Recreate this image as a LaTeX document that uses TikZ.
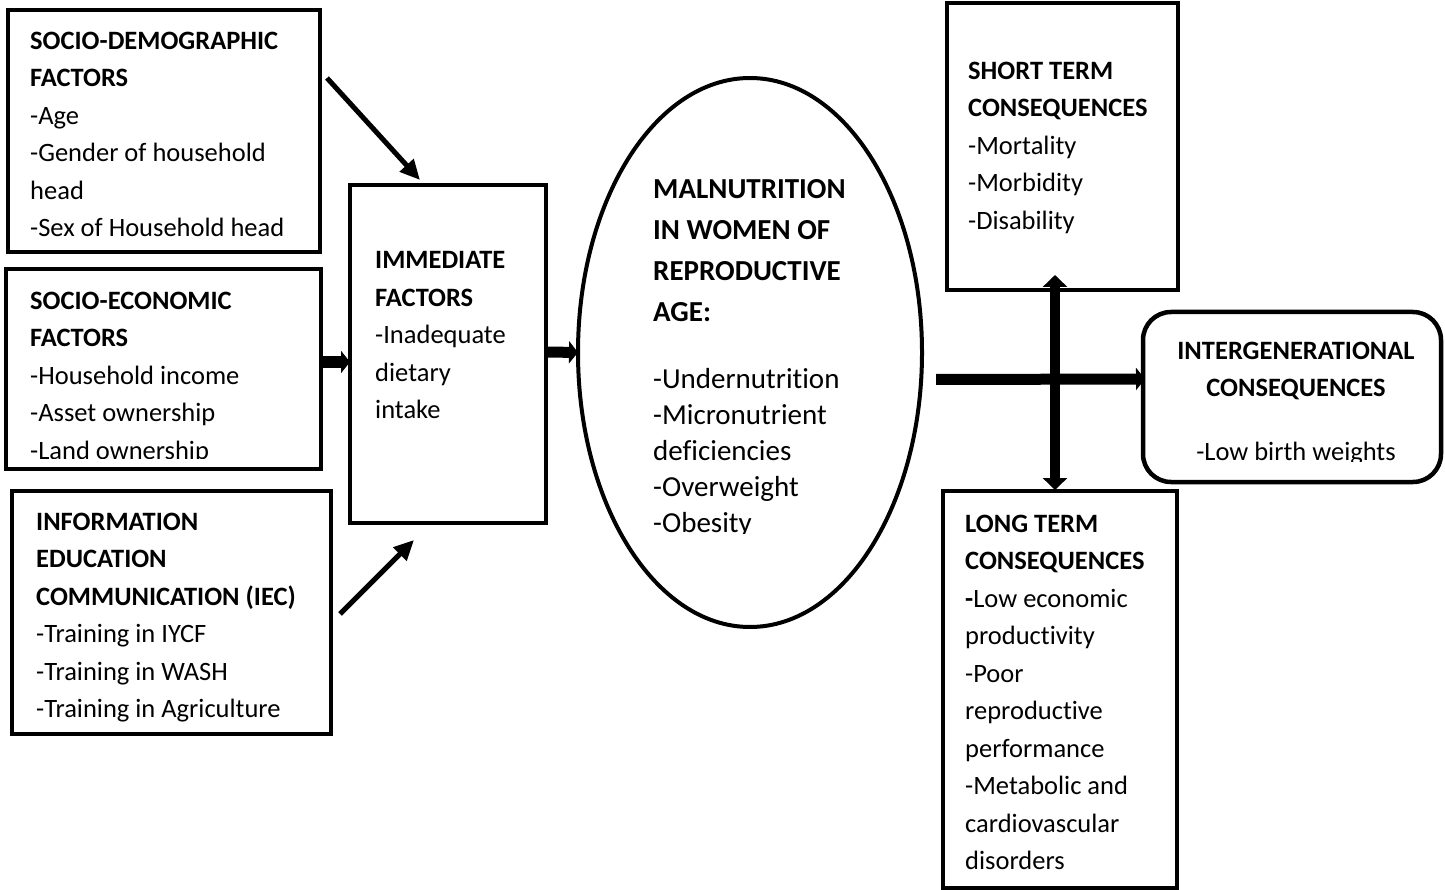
\documentclass[tikz,border=0pt]{standalone}
\usepackage{fontspec}
\setmainfont{Carlito}[Ligatures={NoCommon,NoContextual},Contextuals=NoAlternate]
\usetikzlibrary{arrows.meta,shapes.geometric,calc}
\begin{document}
\begin{tikzpicture}[x=1pt,y=-1pt,
  box/.style={draw,line width=4.5pt,inner sep=0pt,outer sep=0pt},
  txt/.style={anchor=north west,inner sep=0pt,align=left,font=\fontsize{26.5}{37.5}\selectfont},
  big/.style={anchor=north west,inner sep=0pt,align=left,font=\fontsize{29}{41}\selectfont},
  bigl/.style={anchor=north west,inner sep=0pt,align=left,font=\fontsize{29}{36}\selectfont},
  thin/.style={line width=5pt,-{Triangle[length=20pt,width=18pt]}},
  fat/.style={line width=11pt,-{Triangle[length=9pt,width=22pt]}},
  fatboth/.style={line width=10pt,{Triangle[length=12pt,width=24pt]}-{Triangle[length=12pt,width=24pt]}}]
\useasboundingbox (0,0) rectangle (1445,890);
\fill[white] (0,0) rectangle (1445,890);

% boxes
\node[box,minimum width=312pt,minimum height=242pt] (sd) at (164,131) {};
\node[box,minimum width=315pt,minimum height=200pt] (se) at (163.5,369) {};
\node[box,minimum width=319pt,minimum height=243pt] (iec) at (171.5,612.5) {};
\node[box,minimum width=196pt,minimum height=338pt] (imm) at (448,354) {};
\node[box,ellipse,line width=4pt,minimum width=344pt,minimum height=549pt] (mal) at (750,352.5) {};
\node[box,minimum width=231pt,minimum height=287pt] (st) at (1062.5,146.5) {};
\node[box,rounded corners=28pt,minimum width=298pt,minimum height=170pt] (ig) at (1292,397) {};
\node[box,minimum width=234pt,minimum height=397pt] (lt) at (1060,689.5) {};

% texts
\node[txt] (sdt) at (30,31.5) {\textbf{SOCIO-DEMOGRAPHIC}\\\textbf{FACTORS}\\-Age\\-Gender of household\\head\\-Sex of Household head};
\begin{scope}
\clip (0,270) rectangle (330,458);
\node[txt] (set) at (30,291.5) {\textbf{SOCIO-ECONOMIC}\\\textbf{FACTORS}\\-Household income\\-Asset ownership\\-Land ownership};
\end{scope}
\node[txt] (iect) at (36,512.5) {\textbf{INFORMATION}\\\textbf{EDUCATION}\\\textbf{COMMUNICATION (IEC)}\\-Training in IYCF\\-Training in WASH\\-Training in Agriculture};
\node[txt] (immt) at (375,251.5) {\textbf{IMMEDIATE}\\\textbf{FACTORS}\\-Inadequate\\dietary\\intake};
\node[big] (malh) at (653,179.5) {\textbf{MALNUTRITION}\\\textbf{IN WOMEN OF}\\\textbf{REPRODUCTIVE}\\\textbf{AGE:}};
\begin{scope}
\clip (600,350) rectangle (900,533);
\node[bigl] (mall) at (653,368.5) {-Undernutrition\\-Micronutrient\\deficiencies\\-Overweight\\-Obesity};
\end{scope}
\node[txt] (stt) at (968,61.5) {\textbf{SHORT TERM}\\\textbf{CONSEQUENCES}\\-Mortality\\-Morbidity\\-Disability};
\begin{scope}
\clip (1145,315) rectangle (1440,461);
\node[txt,anchor=north,align=center] (igt) at (1296,341.5) {\textbf{INTERGENERATIONAL}\\\textbf{CONSEQUENCES}\\[26.5pt]-Low birth weights};
\end{scope}
\node[txt] (ltt) at (965,514.5) {\textbf{LONG TERM}\\\textbf{CONSEQUENCES}\\\textbf{-}Low economic\\productivity\\-Poor\\reproductive\\performance\\-Metabolic and\\cardiovascular\\disorders};

% connectors
\draw[thin] ($(sd.east)+(7,-53)$) -- ($(imm.north west)+(70,-5)$);
\draw[thin] ($(iec.east)+(9,1.5)$) -- ($(imm.south west)+(64,17)$);
\draw[fat] ($(se.east)+(0,-7)$) -- ($(imm.west)+(0,8)$);
\draw[fat] ($(imm.east)+(2,-2)$) -- (mal.west);
\draw[fat] ($(mal.east)+(14,27)$) -- ($(ig.west)+(2,-18)$);
\draw[fatboth] ($(lt.north)+(-5,-1)$) -- ($(st.south)+(-7.5,-15)$);
\end{tikzpicture}
\end{document}
